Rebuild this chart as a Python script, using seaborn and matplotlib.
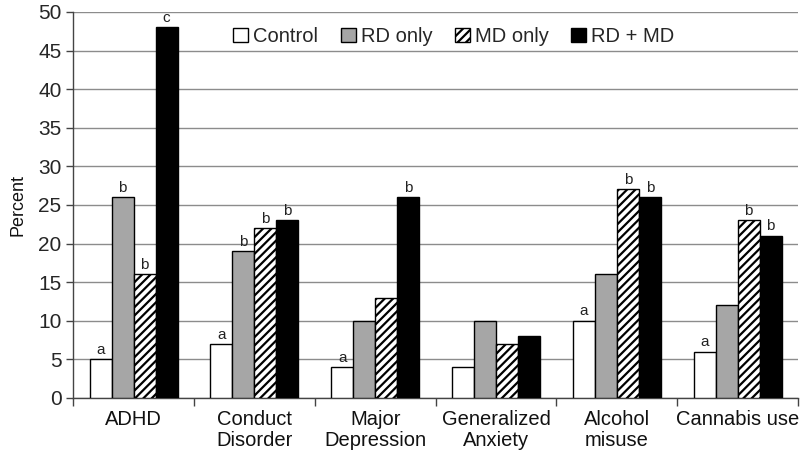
import matplotlib
import pandas as pd
import seaborn as sns

matplotlib.use("Agg")
import matplotlib.pyplot as plt

categories = ["ADHD", "Conduct\nDisorder", "Major\nDepression",
              "Generalized\nAnxiety", "Alcohol\nmisuse", "Cannabis use"]
groups = ["Control", "RD only", "MD only", "RD + MD"]

control = [5, 7, 4, 4, 10, 6]
rd_only = [26, 19, 10, 10, 16, 12]
md_only = [16, 22, 13, 7, 27, 23]
rd_md = [48, 23, 26, 8, 26, 21]

# significance letters, one row per group
letters_control = ["a", "a", "a", "", "a", "a"]
letters_rd = ["b", "b", "", "", "", ""]
letters_md = ["b", "b", "", "", "b", "b"]
letters_rdmd = ["c", "b", "b", "", "b", "b"]

y_ticks = [0, 5, 10, 15, 20, 25, 30, 35, 40, 45, 50]


def build_frame() -> pd.DataFrame:
    rows = []
    for g, vals in zip(groups, [control, rd_only, md_only, rd_md]):
        for c, v in zip(categories, vals):
            rows.append({"category": c, "group": g, "percent": v})
    return pd.DataFrame(rows)


def main() -> None:
    sns.set_theme(style="white")
    plt.rcParams["font.family"] = ["Liberation Sans", "DejaVu Sans"]
    plt.rcParams["hatch.linewidth"] = 1.6

    df = build_frame()
    fig = plt.figure(figsize=(8, 4.61), dpi=100)
    ax = fig.add_axes([0.0915, 0.137, 0.906, 0.837])

    palette = ["#ffffff", "#a6a6a6", "#ffffff", "#000000"]
    sns.barplot(data=df, x="category", y="percent", hue="group",
                palette=palette, edgecolor="black", linewidth=1.0,
                width=0.73, gap=0, ax=ax, zorder=3, errorbar=None)

    for bar in ax.containers[2]:
        bar.set_hatch("////")

    all_letters = [letters_control, letters_rd, letters_md, letters_rdmd]
    for cont, labs in zip(ax.containers, all_letters):
        for bar, lab in zip(cont, labs):
            if lab:
                ax.text(bar.get_x() + bar.get_width() / 2,
                        bar.get_height() + 0.3, lab, ha="center",
                        va="bottom", fontsize=11, color="#222222")

    ax.set_ylim(0, 50)
    ax.set_xlim(-0.5, len(categories) - 0.5)
    ax.set_yticks(y_ticks)
    ax.yaxis.grid(True, color="#8c8c8c", linewidth=1.0, zorder=0)
    ax.set_axisbelow(True)

    ax.set_xticks(range(len(categories)))
    ax.set_xticklabels(categories, fontsize=14.5, color="#111111",
                       linespacing=1.1)
    ax.set_xticks([i - 0.5 for i in range(len(categories) + 1)], minor=True)
    ax.tick_params(axis="x", which="major", length=0, pad=9)
    ax.tick_params(axis="x", which="minor", length=6, width=1,
                   color="#444444", direction="out", bottom=True)
    ax.tick_params(axis="y", labelsize=15, length=5, width=1,
                   color="#444444", direction="out", left=True)

    for side in ["top", "right"]:
        ax.spines[side].set_visible(False)
    for side in ["left", "bottom"]:
        ax.spines[side].set_color("#444444")
        ax.spines[side].set_linewidth(1.0)

    ax.set_xlabel("")
    ax.set_ylabel("Percent", fontsize=13, color="#111111", labelpad=8)

    leg = ax.legend(loc="upper center", bbox_to_anchor=(0.525, 1.008), ncol=4,
                    frameon=False, fontsize=14.5, handlelength=0.75,
                    handleheight=0.75, handletextpad=0.25, columnspacing=1.1)
    leg.legend_handles[2].set_hatch("////")

    fig.savefig("out.png", dpi=100)
    plt.close(fig)


if __name__ == "__main__":
    main()
